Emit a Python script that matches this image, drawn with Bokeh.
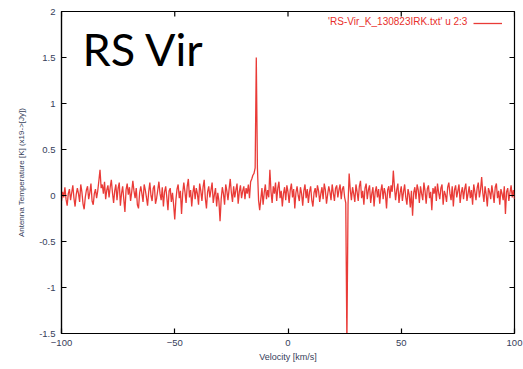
from bokeh.plotting import figure
from bokeh.models import Label, Legend, LegendItem, Range1d, FixedTicker
from bokeh.embed import file_html
from bokeh.resources import INLINE
import math

# ---- data ----
velocity_start = -100.0
velocity_step = 0.5
antenna_temp = [
    -0.06, 0.04, -0.02, 0.09, -0.04, -0.11, 0.02, 0.07, -0.05, 0.03,    # -100.0
    0.11, -0.03, -0.12, 0.01, 0.08, 0.02, -0.07, 0.12, 0.04, -0.09,     # -95.0
    -0.15, -0.02, 0.06, 0.10, -0.04, 0.03, 0.13, -0.06, -0.10, 0.02,    # -90.0
    0.07, -0.03, 0.05, 0.16, 0.28, 0.08, 0.12, 0.02, 0.15, -0.04,       # -85.0
    0.06, 0.11, -0.02, 0.09, 0.17, 0.03, -0.08, 0.05, 0.12, -0.05,      # -80.0
    0.08, 0.14, -0.11, 0.02, 0.10, -0.04, -0.18, 0.06, 0.13, 0.01,      # -75.0
    0.09, -0.06, 0.04, 0.16, 0.05, -0.03, 0.08, -0.10, -0.14, 0.03,     # -70.0
    0.10, 0.02, -0.07, 0.12, 0.06, -0.02, -0.11, 0.04, 0.14, 0.00,      # -65.0
    -0.06, 0.08, 0.11, -0.09, -0.03, 0.06, 0.15, 0.02, -0.05, 0.09,     # -60.0
    -0.12, 0.04, 0.10, -0.02, -0.16, 0.05, 0.08, -0.07, 0.03, -0.10,    # -55.0
    -0.26, -0.05, 0.07, 0.12, -0.03, 0.05, -0.20, 0.02, 0.14, 0.04,     # -50.0
    -0.08, 0.10, 0.18, -0.02, 0.06, -0.12, 0.03, 0.11, -0.04, 0.08,     # -45.0
    0.02, -0.10, 0.13, 0.05, -0.06, 0.09, 0.17, -0.03, -0.14, 0.04,     # -40.0
    0.10, -0.02, 0.06, 0.14, -0.08, 0.01, 0.08, -0.12, 0.03, -0.06,     # -35.0
    -0.28, -0.04, 0.09, 0.02, -0.10, 0.12, 0.05, -0.05, 0.07, 0.18,     # -30.0
    0.03, -0.07, 0.10, -0.02, 0.06, 0.13, -0.09, 0.04, 0.11, -0.03,     # -25.0
    0.05, 0.10, -0.04, 0.08, 0.02, 0.12, -0.03, 0.15, 0.18, 0.22,       # -20.0
    0.24, 0.30, 1.50, 0.30, -0.05, -0.16, -0.04, 0.08, -0.10, 0.03,     # -15.0
    0.12, -0.04, 0.06, -0.02, 0.28, 0.04, -0.08, 0.10, 0.02, 0.14,      # -10.0
    -0.06, 0.08, 0.15, -0.03, 0.05, -0.12, 0.02, 0.09, -0.05, 0.11,     # -5.0
    0.04, -0.08, 0.06, 0.13, -0.02, 0.07, -0.14, 0.03, 0.10, 0.00,      # 0.0
    -0.06, 0.09, 0.02, -0.11, 0.05, 0.12, -0.03, 0.07, -0.08, 0.04,     # 5.0
    0.10, -0.05, -0.12, 0.03, 0.08, -0.02, 0.11, 0.05, -0.07, 0.02,     # 10.0
    0.09, -0.04, 0.13, 0.06, -0.09, 0.01, 0.10, 0.04, -0.05, 0.12,      # 15.0
    0.03, -0.06, 0.08, 0.11, -0.02, 0.06, 0.12, -0.04, 0.07, 0.10,      # 20.0
    -0.02, -0.08, -1.60, -0.10, 0.24, 0.06, -0.05, 0.09, 0.02, -0.07,   # 25.0
    0.12, 0.04, -0.06, 0.10, 0.16, -0.03, 0.05, -0.10, 0.08, 0.13,      # 30.0
    -0.04, 0.06, 0.11, -0.08, 0.02, 0.09, -0.12, 0.04, 0.10, -0.02,     # 35.0
    0.07, -0.09, 0.05, 0.12, -0.04, 0.08, 0.02, -0.14, 0.06, 0.10,      # 40.0
    -0.03, 0.11, 0.04, 0.27, 0.09, -0.05, 0.06, 0.13, -0.08, 0.03,      # 45.0
    0.10, -0.06, 0.04, 0.12, -0.02, -0.10, 0.07, 0.01, -0.13, 0.05,     # 50.0
    -0.22, 0.03, 0.09, -0.04, 0.12, 0.06, -0.08, 0.10, 0.02, -0.05,     # 55.0
    0.14, 0.05, -0.09, 0.07, 0.11, -0.03, 0.04, -0.16, 0.08, 0.02,      # 60.0
    0.10, -0.06, 0.13, 0.03, -0.04, 0.08, 0.12, -0.10, 0.05, 0.01,      # 65.0
    -0.07, 0.09, 0.14, 0.02, -0.05, 0.10, -0.12, 0.06, 0.11, -0.02,     # 70.0
    0.05, 0.12, -0.08, 0.03, 0.09, -0.04, 0.07, 0.13, -0.06, 0.02,      # 75.0
    0.10, -0.03, 0.06, -0.10, 0.12, 0.04, -0.05, 0.08, 0.14, -0.02,     # 80.0
    0.06, 0.20, 0.03, -0.07, 0.10, 0.01, -0.12, 0.08, 0.04, -0.04,      # 85.0
    0.11, 0.02, -0.08, 0.09, 0.13, -0.03, 0.05, -0.10, 0.07, 0.02,      # 90.0
    -0.05, 0.10, -0.20, 0.04, 0.08, -0.06, 0.03, 0.11, -0.02, 0.06,     # 95.0
    -0.04,                                                              # 100.0
]
velocity = [velocity_start + i * velocity_step for i in range(len(antenna_temp))]

x_range = [-100, 100]
y_range = [-1.5, 2]
x_ticks = [-100, -50, 0, 50, 100]
y_ticks = [-1.5, -1, -0.5, 0, 0.5, 1, 1.5, 2]
y_tick_labels = ["-1.5", "-1", "-0.5", "0", "0.5", "1", "1.5", "2"]
series_label = "'RS-Vir_K_130823IRK.txt' u 2:3"
title_text = "RS Vir"
x_label = "Velocity [km/s]"
y_label = "Antenna Temperature [K] (x19->[Jy])"

# ---- styles ----
RED = "#e8302c"
TXT = "#36405a"
FONT = "Liberation Sans"

p = figure(width=523, height=369, output_backend="svg", toolbar_location=None,
           x_range=Range1d(*x_range), y_range=Range1d(*y_range),
           min_border_left=61, min_border_right=9, min_border_top=11, min_border_bottom=36)
p.grid.visible = False
p.outline_line_color = "black"
p.outline_line_width = 1.2
p.background_fill_color = "white"
p.border_fill_color = "white"

line = p.line(velocity, antenna_temp, line_color=RED, line_width=1.3, line_alpha=0.95)

for ax in (p.xaxis[0], p.yaxis[0]):
    ax.major_tick_in = 5
    ax.major_tick_out = 0
    ax.minor_tick_line_color = None
    ax.axis_line_color = "black"
    ax.axis_line_width = 1.2
    ax.major_tick_line_color = "black"
    ax.major_tick_line_width = 1.2
    ax.major_label_text_font = FONT
    ax.major_label_text_font_size = "9.5px"
    ax.major_label_text_color = TXT
    ax.axis_label_text_font = FONT
    ax.axis_label_text_font_style = "normal"
    ax.axis_label_text_color = TXT

p.xaxis[0].ticker = FixedTicker(ticks=x_ticks)
p.yaxis[0].ticker = FixedTicker(ticks=y_ticks)
p.yaxis[0].major_label_overrides = {t: l for t, l in zip(y_ticks, y_tick_labels)}
p.xaxis[0].axis_label = x_label
p.yaxis[0].axis_label = y_label
p.xaxis[0].axis_label_text_font_size = "9px"
p.yaxis[0].axis_label_text_font_size = "8px"
p.xaxis[0].major_label_standoff = 6
p.yaxis[0].major_label_standoff = 6
p.xaxis[0].axis_label_standoff = 3
p.yaxis[0].axis_label_standoff = 10

# mirrored ticks on top and right borders (gnuplot style); the half outside the frame is clipped
p.scatter(x=x_ticks, y=[y_range[1]] * len(x_ticks), marker="dash", angle=math.pi / 2,
          size=10, line_color="black", line_width=1.2)
p.scatter(x=[x_range[1]] * len(y_ticks), y=y_ticks, marker="dash",
          size=10, line_color="black", line_width=1.2)

# legend: sample line at the right, text to its left
legend = Legend(items=[LegendItem(label=" ", renderers=[line])],
                location=(412, 307), glyph_width=29, glyph_height=6,
                label_width=0, label_standoff=0, padding=0, margin=0, spacing=0,
                border_line_color=None, background_fill_alpha=0,
                label_text_font_size="8px")
p.add_layout(legend)

p.add_layout(Label(x=79.2, y=1.89, text=series_label, text_align="right",
                   text_baseline="middle", text_font=FONT, text_font_size="10px",
                   text_color=RED))

p.add_layout(Label(x=-90.7, y=1.59, text=title_text, text_align="left",
                   text_baseline="alphabetic", text_font="Lato",
                   text_font_size="45px", text_color="black"))

open("out.html", "w").write(file_html(p, INLINE))
